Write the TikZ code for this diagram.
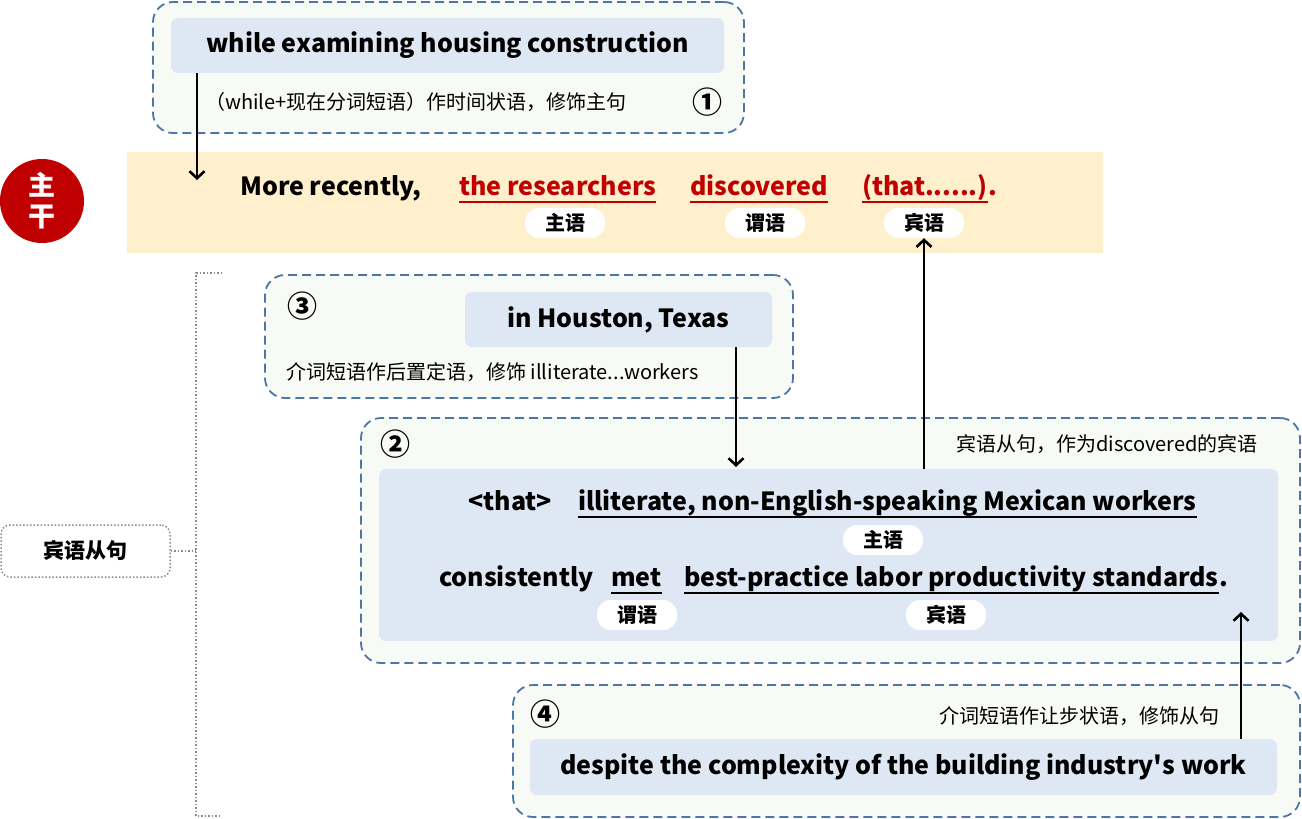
\documentclass[tikz,border=0pt]{standalone}
\usepackage{fontspec}
\setmainfont{Noto Sans CJK SC}
\newfontfamily\plaincjk{Noto Sans CJK SC}
\usetikzlibrary{arrows.meta,calc}
\definecolor{dashc}{HTML}{4A76A8}
\definecolor{outerfill}{HTML}{F8FAF5}
\definecolor{innerfill}{HTML}{DEE8F4}
\definecolor{bandfill}{HTML}{FFF0CD}
\definecolor{redc}{HTML}{C00000}
\definecolor{dotc}{HTML}{8C8C8C}
\tikzset{
  outerbox/.style={draw=dashc, fill=outerfill, line width=1.8pt, dash pattern=on 9pt off 5pt, rounded corners=20pt, inner sep=0pt},
  innerbox/.style={fill=innerfill, rounded corners=7pt, inner sep=0pt},
  big/.style={font=\fontsize{25}{29}\selectfont\bfseries},
  small/.style={font=\fontsize{20}{24}\selectfont},
  num/.style={font=\fontsize{30}{34}\selectfont\bfseries},
  pill/.style={fill=white, rounded corners=14pt, minimum width=80pt, minimum height=30pt, inner sep=0pt, font=\fontsize{20}{22}\selectfont\bfseries},
  txt/.style={inner sep=0pt, anchor=base west},
  arr/.style={line width=2.6pt, -{Straight Barb[length=7pt,width=15pt,line width=2.6pt]}},
  ul/.style={line width=1.4pt},
  dotline/.style={draw=dotc, line width=1.5pt, dotted}
}
\begin{document}
\begin{tikzpicture}[x=1pt,y=-1pt]
\useasboundingbox (0,0) rectangle (1302,819);

% Box 1
\node[outerbox, minimum width=591pt, minimum height=131pt] (b1) at (448.5,67.5) {};
\node[innerbox, minimum width=553pt, minimum height=55pt, big] (w1) at (447.5,45.5) {while examining housing construction};
\node[txt, small] (t1) at (205,109) {（while+现在分词短语）作时间状语，修饰主句};
\node[num] (n1) at (707,102) {①};

% Main band
\node[fill=bandfill, minimum width=976pt, minimum height=101pt, inner sep=0pt] (band) at (615,202.5) {};
\node[circle, fill=redc, minimum size=84pt, inner sep=0pt, text=white, align=center,
      font=\fontsize{27}{31}\selectfont\bfseries] (zg) at (42,201) {主\\干};
\coordinate (c1) at (197,180);
\draw[arr] (w1.south -| c1) -- (c1);

\node[txt, big] (mr) at (240,195) {More recently,};
\node[txt, big, text=redc] (subj) at (459,195) {the researchers};
\node[txt, big, text=redc] (verb) at (690,195) {discovered};
\node[txt, big, text=redc] (obj) at (862,195) {(that......)};
\node[txt, big, text=redc, anchor=base west] (dot) at (obj.base east) {.};
\draw[ul, redc] ($(subj.base west)+(0,7)$) -- ($(subj.base east)+(0,7)$);
\draw[ul, redc] ($(verb.base west)+(0,7)$) -- ($(verb.base east)+(0,7)$);
\draw[ul, redc] ($(obj.base west)+(0,7)$) -- ($(obj.base east)+(0,7)$);
\node[pill] (p1) at (565,223) {主语};
\node[pill] (p2) at (765,223) {谓语};
\node[pill] (p3) at (924,223) {宾语};

% Bracket and label
\node[draw=dotc, line width=1.5pt, dotted, rounded corners=9pt, minimum width=169pt, minimum height=52pt, inner sep=0pt,
      font=\fontsize{21}{25}\selectfont\bfseries] (lab) at (85.5,551) {宾语从句};
\coordinate (bt) at (222,273);
\coordinate (bb) at (222,816);
\coordinate (bm) at (196,551);
\draw[dotline] (bt) -- (196,273) -- (196,816) -- (bb);
\draw[dotline] (lab.east) -- (bm);

% Box 3
\node[outerbox, minimum width=528pt, minimum height=123pt] (b3) at (529,336.5) {};
\node[innerbox, minimum width=307pt, minimum height=55pt, big] (hou) at (618.5,319.5) {in Houston, Texas};
\node[num] (n3) at (302,306) {③};
\node[txt, small] (t3) at (286,379) {介词短语作后置定语，修饰 illiterate...workers};

% Box 2
\node[outerbox, minimum width=939pt, minimum height=245pt] (b2) at (830.5,540.5) {};
\node[innerbox, minimum width=899pt, minimum height=172pt] (cl) at (828.5,555) {};
\node[num] (n2) at (395,444) {②};
\node[small, inner sep=0pt, anchor=base east] (t2) at (1258,451) {宾语从句，作为discovered的宾语};
\coordinate (c3) at (736,467);
\draw[arr] (hou.south -| c3) -- (c3);
\draw[arr] (cl.north -| p3.south) -- (p3.south);

\node[txt, big] (that) at (468,510) {<that>};
\node[txt, big] (s2) at (578,510) {illiterate, non-English-speaking Mexican workers};
\draw[ul] ($(s2.base west)+(0,7)$) -- ($(s2.base east)+(0,7)$);
\node[pill] (p4) at (883,540) {主语};
\node[txt, big] (cons) at (439,586) {consistently};
\node[txt, big] (met) at (611,586) {met};
\node[txt, big] (o2) at (684,586) {best-practice labor productivity standards};
\node[txt, big, anchor=base west] (dot2) at (o2.base east) {.};
\draw[ul] ($(met.base west)+(0,7)$) -- ($(met.base east)+(0,7)$);
\draw[ul] ($(o2.base west)+(0,7)$) -- ($(o2.base east)+(0,7)$);
\node[pill] (p5) at (637,615) {谓语};
\node[pill] (p6) at (946,615) {宾语};

% Box 4
\node[outerbox, minimum width=787pt, minimum height=132pt] (b4) at (906.5,751) {};
\node[innerbox, minimum width=747pt, minimum height=56pt, big] (des) at (903.5,767) {despite the complexity of the building industry{\plaincjk\bfseries '}s work};
\node[num] (n4) at (545,714) {④};
\node[small, inner sep=0pt, anchor=base east] (t4) at (1220,723) {介词短语作让步状语，修饰从句};
\coordinate (c4) at (1241,612);
\draw[arr] (des.north -| c4) -- (c4);
\end{tikzpicture}
\end{document}
